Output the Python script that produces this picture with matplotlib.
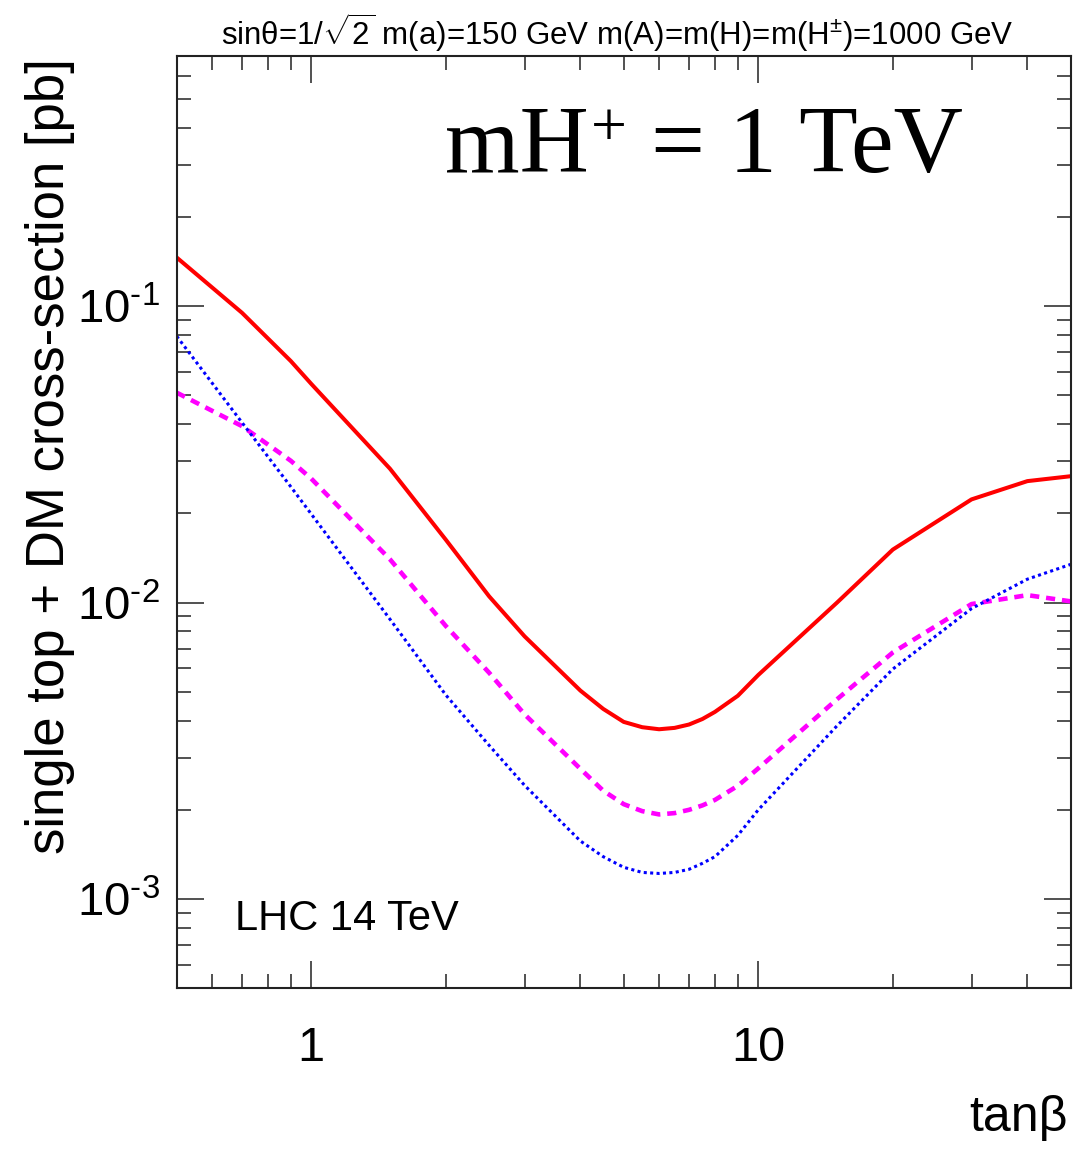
import matplotlib
matplotlib.use("Agg")
import matplotlib.pyplot as plt
from matplotlib.ticker import LogLocator, NullFormatter, FixedLocator

plt.rcParams['font.family'] = ['Liberation Sans', 'DejaVu Sans']
plt.rcParams['mathtext.fontset'] = 'custom'
plt.rcParams['mathtext.rm'] = 'Liberation Sans'
plt.rcParams['mathtext.it'] = 'Liberation Sans'
plt.rcParams['mathtext.bf'] = 'Liberation Sans:bold'

# ---- data ----
tanb = [0.5, 0.7, 0.9, 1, 1.5, 2, 2.5, 3, 4, 4.5, 5, 5.5, 6, 6.5, 7, 7.5, 8, 9, 10,
        15, 20, 30, 40, 50]
xsec_total = [0.146, 0.095, 0.0653, 0.0547, 0.0283, 0.0163, 0.0105, 0.0077, 0.00505,
              0.00438, 0.00396, 0.00380, 0.00374, 0.00378, 0.00388, 0.00405, 0.00428,
              0.00485, 0.0057, 0.0100, 0.0151, 0.0223, 0.0257, 0.0267]
xsec_dashed = [0.0511, 0.0394, 0.0301, 0.0262, 0.0140, 0.00834, 0.0058, 0.0042,
               0.00275, 0.00232, 0.00209, 0.00198, 0.00193, 0.00195, 0.00200, 0.00207,
               0.00216, 0.00241, 0.00276, 0.00472, 0.00679, 0.00989, 0.0106, 0.0101]
xsec_dotted = [0.0792, 0.0405, 0.0246, 0.0199, 0.00879, 0.00488, 0.0033, 0.00242,
               0.00157, 0.00139, 0.00128, 0.00123, 0.00122, 0.00123, 0.00126, 0.00132,
               0.00139, 0.00164, 0.00200, 0.00384, 0.00597, 0.00955, 0.0120, 0.01346]

x_ticks = [1, 10]
x_ticklabels = ["1", "10"]
y_ticks = [1e-3, 1e-2, 1e-1]
y_ticklabels = [r"$10^{\text{-3}}$", r"$10^{\text{-2}}$", r"$10^{\text{-1}}$"]

W, H = 1084, 1149
fig = plt.figure(figsize=(W / 100, H / 100), dpi=100)
L, R, T, B = 176.7, 1070.7, 55.7, 988.3
ax = fig.add_axes([L / W, 1 - B / H, (R - L) / W, (B - T) / H])

ax.plot(tanb, xsec_total, color='#ff0000', lw=2.9)
ax.plot(tanb, xsec_dashed, color='#ff00ff', lw=3.3, dashes=(2.0, 1.5))
ax.plot(tanb, xsec_dotted, color='#0000ff', lw=2.2, dashes=(1.0, 1.1))

ax.set_xscale('log')
ax.set_yscale('log')
ax.set_xlim(0.5, 50)
ax.set_ylim(5e-4, 0.7)

ax.xaxis.set_major_locator(FixedLocator(x_ticks))
ax.set_xticklabels(x_ticklabels)
ax.yaxis.set_major_locator(FixedLocator(y_ticks))
ax.set_yticklabels(y_ticklabels)
ax.xaxis.set_minor_locator(LogLocator(base=10, subs=range(2, 10), numticks=20))
ax.yaxis.set_minor_locator(LogLocator(base=10, subs=range(2, 10), numticks=20))
ax.xaxis.set_minor_formatter(NullFormatter())
ax.yaxis.set_minor_formatter(NullFormatter())

ax.tick_params(which='both', direction='in', top=True, right=True,
               color='#222222', width=1.1)
ax.tick_params(which='major', length=19.5)
ax.tick_params(which='minor', length=10)
ax.tick_params(axis='x', which='major', labelsize=35, pad=27)
ax.tick_params(axis='y', which='major', labelsize=34, pad=12)
for s in ax.spines.values():
    s.set_linewidth(1.5)
    s.set_color('#222222')

# texts
fig.text(617 / W, 1 - 33 / H,
         r"sinθ=1/$\sqrt{2}$ m(a)=150 GeV m(A)=m(H)=m(H$^{\pm}$)=1000 GeV",
         ha='center', va='center', fontsize=22.5)

serif = ['Liberation Serif', 'DejaVu Serif']
fig.canvas.draw()
rend = fig.canvas.get_renderer()
t1 = fig.text(445 / W, 1 - 172 / H, "mH", ha='left', va='baseline',
              fontsize=69, family=serif)
bb1 = t1.get_window_extent(rend)
t2 = fig.text((bb1.x1 + 2) / W, 1 - 146 / H, "+", ha='left', va='baseline',
              fontsize=46, family=serif)
bb2 = t2.get_window_extent(rend)
fig.text((bb2.x1) / W, 1 - 172 / H, " = 1 TeV", ha='left', va='baseline',
         fontsize=69, family=serif)

fig.text(235 / W, 1 - 930 / H, "LHC 14 TeV", ha='left', va='baseline', fontsize=30)
fig.text(50 / W, 1 - 456 / H, "single top + DM cross-section [pb]",
         rotation=90, ha='center', va='center', fontsize=38)
fig.text(1068 / W, 1 - 1118 / H, "tanβ", ha='right', va='center',
         fontsize=36)

fig.savefig("out.png", dpi=100)
